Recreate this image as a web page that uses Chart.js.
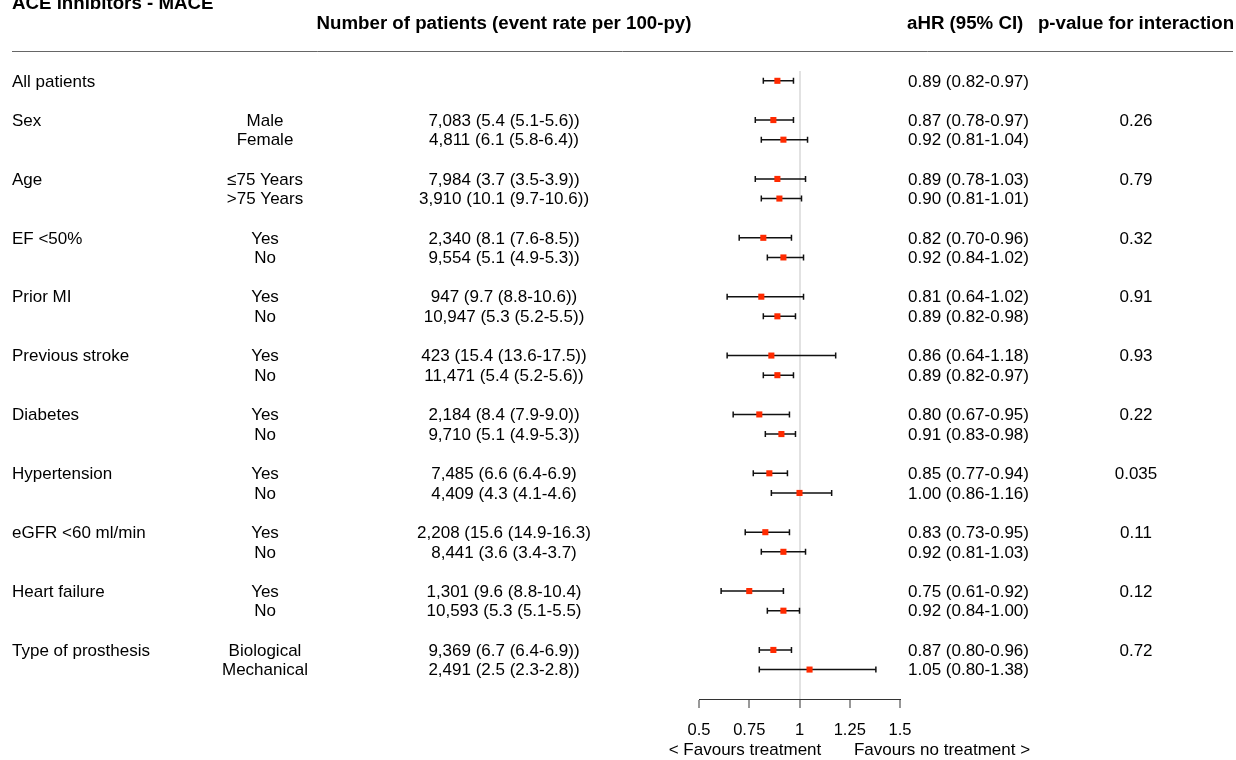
<!DOCTYPE html>
<html>
<head>
<meta charset="utf-8">
<script src="https://cdn.jsdelivr.net/npm/chart.js@4/dist/chart.umd.min.js"></script>
<style>
  html, body { margin: 0; padding: 0; background: #fff; }
  #wrap { width: 1236px; height: 760px; }
</style>
</head>
<body>
<div id="wrap"><canvas id="forest" width="1236" height="760"></canvas></div>
<script>
// ── forest plot: ACE inhibitors - MACE ──

// row slots (0 = top); empty slots act as spacers between groups
const rowPos = [0, 2, 3, 5, 6, 8, 9, 11, 12, 14, 15, 17, 18, 20, 21, 23, 24, 26, 27, 29, 30];
const groupLabels = ['All patients', 'Sex', '', 'Age', '', 'EF <50%', '', 'Prior MI', '', 'Previous stroke', '',
  'Diabetes', '', 'Hypertension', '', 'eGFR <60 ml/min', '', 'Heart failure', '', 'Type of prosthesis', ''];
const subLabels = ['', 'Male', 'Female', '\u226475 Years', '>75 Years', 'Yes', 'No', 'Yes', 'No', 'Yes', 'No',
  'Yes', 'No', 'Yes', 'No', 'Yes', 'No', 'Yes', 'No', 'Biological', 'Mechanical'];
const patientText = ['', '7,083 (5.4 (5.1-5.6))', '4,811 (6.1 (5.8-6.4))', '7,984 (3.7 (3.5-3.9))', '3,910 (10.1 (9.7-10.6))',
  '2,340 (8.1 (7.6-8.5))', '9,554 (5.1 (4.9-5.3))', '947 (9.7 (8.8-10.6))', '10,947 (5.3 (5.2-5.5))',
  '423 (15.4 (13.6-17.5))', '11,471 (5.4 (5.2-5.6))', '2,184 (8.4 (7.9-9.0))', '9,710 (5.1 (4.9-5.3))',
  '7,485 (6.6 (6.4-6.9)', '4,409 (4.3 (4.1-4.6)', '2,208 (15.6 (14.9-16.3)', '8,441 (3.6 (3.4-3.7)',
  '1,301 (9.6 (8.8-10.4)', '10,593 (5.3 (5.1-5.5)', '9,369 (6.7 (6.4-6.9))', '2,491 (2.5 (2.3-2.8))'];
const hr    = [0.89, 0.87, 0.92, 0.89, 0.90, 0.82, 0.92, 0.81, 0.89, 0.86, 0.89, 0.80, 0.91, 0.85, 1.00, 0.83, 0.92, 0.75, 0.92, 0.87, 1.05];
const lower = [0.82, 0.78, 0.81, 0.78, 0.81, 0.70, 0.84, 0.64, 0.82, 0.64, 0.82, 0.67, 0.83, 0.77, 0.86, 0.73, 0.81, 0.61, 0.84, 0.80, 0.80];
const upper = [0.97, 0.97, 1.04, 1.03, 1.01, 0.96, 1.02, 1.02, 0.98, 1.18, 0.97, 0.95, 0.98, 0.94, 1.16, 0.95, 1.03, 0.92, 1.00, 0.96, 1.38];
const pInteraction = ['', '0.26', '', '0.79', '', '0.32', '', '0.91', '', '0.93', '', '0.22', '', '0.035', '', '0.11', '', '0.12', '', '0.72', ''];
const xTicks = [0.5, 0.75, 1, 1.25, 1.5];
const xTickLabels = ['0.5', '0.75', '1', '1.25', '1.5'];

const FONT = '"Liberation Sans", Arial, Helvetica, sans-serif';

// text columns + header, placed on the y scale of the chart
const tablePlugin = {
  id: 'table',
  afterDraw(chart) {
    const ctx = chart.ctx;
    const y = chart.scales.y;
    ctx.save();
    ctx.fillStyle = '#000';

    // headers
    ctx.font = 'bold 18.7px ' + FONT;
    ctx.textBaseline = 'alphabetic';
    ctx.textAlign = 'left';
    ctx.fillText('ACE inhibitors - MACE', 12, 9);
    ctx.textAlign = 'center';
    ctx.fillText('Number of patients (event rate per 100-py)', 504, 29);
    ctx.textAlign = 'left';
    ctx.fillText('aHR (95% CI)', 907, 29);
    ctx.textAlign = 'center';
    ctx.fillText('p-value for interaction', 1136, 29);

    ctx.strokeStyle = '#666';
    ctx.lineWidth = 1;
    ctx.beginPath();
    ctx.moveTo(12, 51.5);
    ctx.lineTo(1233, 51.5);
    ctx.stroke();

    // rows
    ctx.font = '17px ' + FONT;
    ctx.textBaseline = 'middle';
    rowPos.forEach((r, i) => {
      const py = y.getPixelForValue(r) + 1;
      ctx.textAlign = 'left';
      ctx.fillText(groupLabels[i], 12, py);
      ctx.fillText(hr[i].toFixed(2) + ' (' + lower[i].toFixed(2) + '-' + upper[i].toFixed(2) + ')', 908, py);
      ctx.textAlign = 'center';
      ctx.fillText(subLabels[i], 265, py);
      ctx.fillText(patientText[i], 504, py);
      ctx.fillText(pInteraction[i], 1136, py);
    });

    // favours labels under the axis
    ctx.font = '17px ' + FONT;
    ctx.textAlign = 'center';
    ctx.fillText('< Favours treatment', 745, 750);
    ctx.fillText('Favours no treatment >', 942, 750);
    ctx.restore();
  }
};

// confidence interval whiskers
const ciPlugin = {
  id: 'ci',
  beforeDatasetsDraw(chart) {
    const ctx = chart.ctx;
    const x = chart.scales.x, y = chart.scales.y;
    ctx.save();
    ctx.strokeStyle = '#111';
    ctx.lineWidth = 1.5;
    rowPos.forEach((r, i) => {
      const py = y.getPixelForValue(r);
      const x0 = x.getPixelForValue(lower[i]);
      const x1 = x.getPixelForValue(upper[i]);
      ctx.beginPath();
      ctx.moveTo(x0, py); ctx.lineTo(x1, py);
      ctx.moveTo(x0, py - 3); ctx.lineTo(x0, py + 3);
      ctx.moveTo(x1, py - 3); ctx.lineTo(x1, py + 3);
      ctx.stroke();
    });
    ctx.restore();
  }
};

new Chart(document.getElementById('forest'), {
  type: 'scatter',
  data: {
    datasets: [{
      data: rowPos.map((r, i) => ({ x: hr[i], y: r })),
      pointStyle: 'rect',
      pointRadius: 4.3,
      backgroundColor: '#ff2a00',
      borderWidth: 0
    }]
  },
  options: {
    responsive: false,
    devicePixelRatio: 1,
    animation: false,
    layout: { padding: { left: 699, right: 336, top: 71, bottom: 21 } },
    plugins: { legend: { display: false }, tooltip: { enabled: false } },
    scales: {
      x: {
        type: 'linear',
        min: 0.5, max: 1.5,
        afterBuildTicks: s => { s.ticks = xTicks.map(v => ({ value: v })); },
        afterFit: s => { s.height = 40; },
        ticks: {
          color: '#000',
          font: { family: FONT, size: 16.5 },
          padding: 13,
          maxRotation: 0,
          callback: (v) => xTickLabels[xTicks.indexOf(v)]
        },
        grid: {
          drawOnChartArea: true,
          color: c => (c.tick && c.tick.value === 1 ? '#e2e2e2' : 'rgba(0,0,0,0)'),
          lineWidth: 2,
          tickColor: '#333',
          tickLength: 9,
          tickWidth: 1
        },
        border: { display: true, color: '#333', width: 1 }
      },
      y: { type: 'linear', min: -0.5, max: 31.5, reverse: true, display: false }
    }
  },
  plugins: [ciPlugin, tablePlugin]
});
</script>
</body>
</html>
